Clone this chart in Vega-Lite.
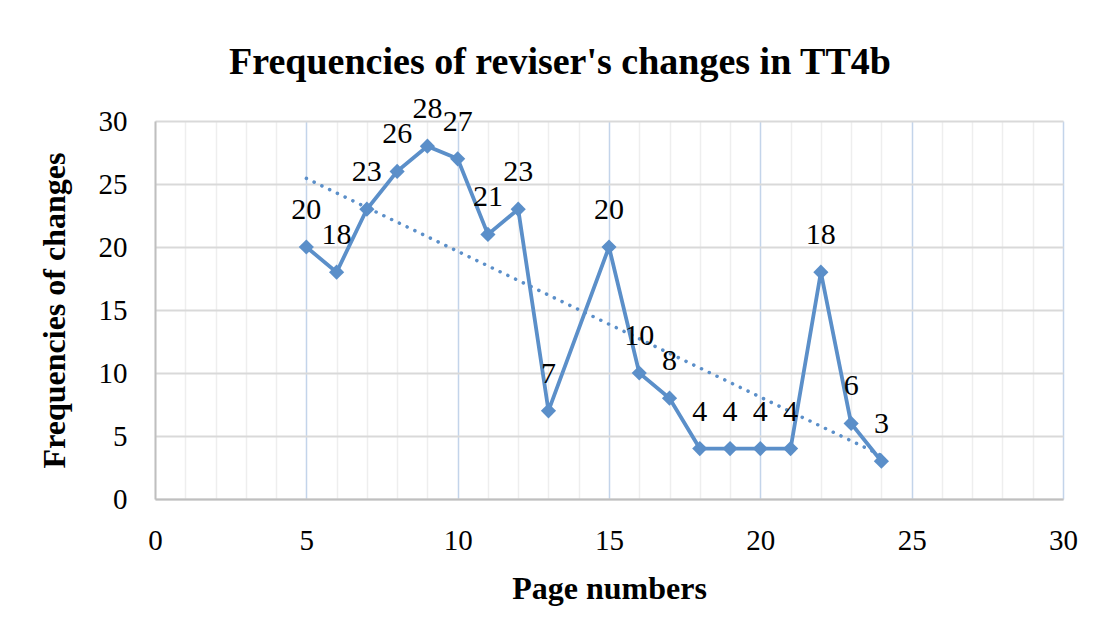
{
  "$schema": "https://vega.github.io/schema/vega-lite/v6.json",
  "width": 908,
  "height": 378,
  "autosize": {"type": "none"},
  "padding": {"left": 155, "top": 121, "right": 35, "bottom": 138},
  "background": "white",
  "config": {
    "font": "Liberation Serif",
    "view": {"stroke": null}
  },
  "title": {
    "text": "Frequencies of reviser's changes in TT4b",
    "font": "Liberation Serif",
    "fontSize": 38,
    "fontWeight": "bold",
    "color": "black",
    "dx": -49,
    "offset": 12
  },
  "data": {
    "values": [
      {"page": 5, "changes": 20},
      {"page": 6, "changes": 18},
      {"page": 7, "changes": 23},
      {"page": 8, "changes": 26},
      {"page": 9, "changes": 28},
      {"page": 10, "changes": 27},
      {"page": 11, "changes": 21},
      {"page": 12, "changes": 23},
      {"page": 13, "changes": 7},
      {"page": 15, "changes": 20},
      {"page": 16, "changes": 10},
      {"page": 17, "changes": 8},
      {"page": 18, "changes": 4},
      {"page": 19, "changes": 4},
      {"page": 20, "changes": 4},
      {"page": 21, "changes": 4},
      {"page": 22, "changes": 18},
      {"page": 23, "changes": 6},
      {"page": 24, "changes": 3}
    ]
  },
  "encoding": {
    "x": {
      "field": "page",
      "type": "quantitative",
      "scale": {"domain": [0, 30], "nice": false, "zero": false},
      "axis": {
        "title": "Page numbers",
        "titleFont": "Liberation Serif",
        "titleFontSize": 32,
        "titleFontWeight": "bold",
        "titleColor": "black",
        "titlePadding": 18,
        "values": [0,1,2,3,4,5,6,7,8,9,10,11,12,13,14,15,16,17,18,19,20,21,22,23,24,25,26,27,28,29,30],
        "labelExpr": "datum.value % 5 === 0 ? datum.label : ''",
        "labelFont": "Liberation Serif",
        "labelFontSize": 29,
        "labelColor": "black",
        "labelPadding": 27,
        "labelOverlap": false,
        "labelFlush": false,
        "ticks": false,
        "domainColor": "#bfbfbf",
        "domainWidth": 2,
        "grid": true,
        "gridWidth": 1.5,
        "gridColor": {"condition": {"test": "datum.value % 5 === 0 && datum.value > 0", "value": "#c3d4ea"}, "value": "#eeeeee"}
      }
    },
    "y": {
      "field": "changes",
      "type": "quantitative",
      "scale": {"domain": [0, 30], "nice": false},
      "axis": {
        "title": "Frequencies of changes",
        "titleFont": "Liberation Serif",
        "titleFontSize": 32,
        "titleFontWeight": "bold",
        "titleColor": "black",
        "titlePadding": 27,
        "values": [0, 5, 10, 15, 20, 25, 30],
        "labelFont": "Liberation Serif",
        "labelFontSize": 29,
        "labelColor": "black",
        "labelPadding": 28,
        "labelFlush": false,
        "ticks": false,
        "domainColor": "#bfbfbf",
        "domainWidth": 2,
        "grid": true,
        "gridWidth": 2,
        "gridColor": "#d9d9d9"
      }
    }
  },
  "layer": [
    {
      "transform": [{"regression": "changes", "on": "page"}],
      "mark": {"type": "line", "color": "#5b8fc9", "strokeWidth": 3.5, "strokeCap": "round", "strokeDash": [0.1, 8.5]}
    },
    {
      "mark": {"type": "line", "color": "#5b8fc9", "strokeWidth": 3.8, "point": {"shape": "diamond", "size": 230, "filled": true, "color": "#5b8fc9", "opacity": 1}}
    },
    {
      "mark": {"type": "text", "font": "Liberation Serif", "fontSize": 30, "color": "black", "baseline": "middle", "align": "center", "dy": -37},
      "encoding": {"text": {"field": "changes", "type": "quantitative"}}
    }
  ]
}
